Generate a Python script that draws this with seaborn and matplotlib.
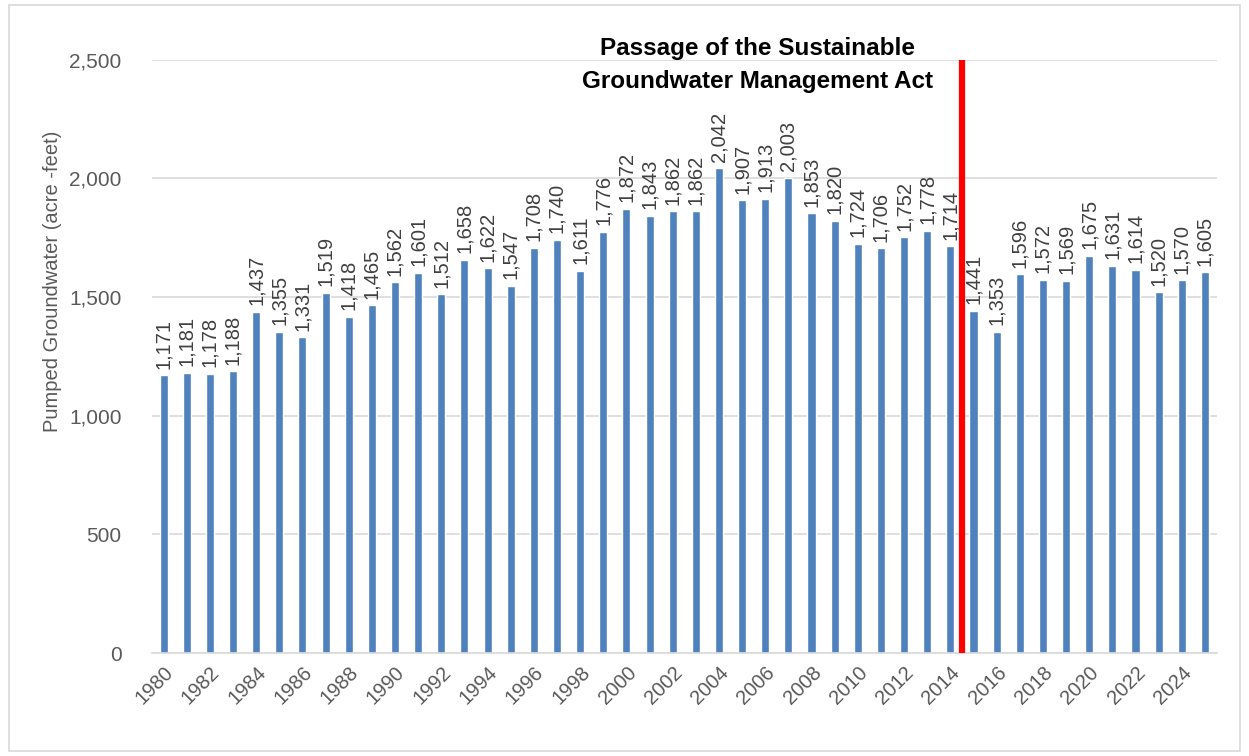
import numpy as np
import pandas as pd
import seaborn as sns
import matplotlib.pyplot as plt
from matplotlib.patches import Rectangle

# Data
years = list(range(1980, 2026))
pumped = [1171, 1181, 1178, 1188, 1437, 1355, 1331, 1519, 1418, 1465,
          1562, 1601, 1512, 1658, 1622, 1547, 1708, 1740, 1611, 1776,
          1872, 1843, 1862, 1862, 2042, 1907, 1913, 2003, 1853, 1820,
          1724, 1706, 1752, 1778, 1714, 1441, 1353, 1596, 1572, 1569,
          1675, 1631, 1614, 1520, 1570, 1605]
sgma_year = 2015
annotation = "Passage of the Sustainable\nGroundwater Management Act"

df = pd.DataFrame({"year": years, "pumped": pumped})

sns.set_style("white")
plt.rcParams["font.family"] = ["Liberation Sans", "DejaVu Sans"]

fig = plt.figure(figsize=(12.49, 7.56), dpi=100)
ax = fig.add_axes([0.1217, 0.136, 0.8523, 0.785])

sns.barplot(data=df, x="year", y="pumped", color="#4f81bd", saturation=1,
            width=0.35, ax=ax)

# value labels
for i, v in enumerate(pumped):
    ax.text(i, v + 28, f"{v:,}", rotation=90, ha="center", va="bottom",
            fontsize=14.5, color="#404040")

# SGMA marker
xline = years.index(sgma_year) - 0.5
ax.axvline(xline, ymin=0, ymax=1, color="#ff0000", lw=4.5, zorder=5)
ax.text(xline - 8.85, 2478, annotation, ha="center", va="center",
        fontsize=17.5, fontweight="bold", color="black", linespacing=1.6,
        clip_on=False)

ax.set_xlim(-0.5, len(years) - 0.5)
ax.set_ylim(0, 2500)
ax.set_yticks(np.arange(0, 2501, 500))
ax.set_yticklabels([f"{t:,}" for t in range(0, 2501, 500)])
ticks = list(range(0, len(years), 2))
ax.set_xticks(ticks)
ax.set_xticklabels([str(years[t]) for t in ticks], rotation=45, ha="right",
                   rotation_mode="anchor")
ax.tick_params(axis="x", length=0, pad=7, labelsize=14.5, labelcolor="#595959")
ax.tick_params(axis="y", length=0, pad=22, labelsize=15, labelcolor="#595959")

ax.yaxis.grid(True, color="#d9d9d9", lw=1.2)
ax.set_axisbelow(True)
for s in ["top", "right", "left"]:
    ax.spines[s].set_visible(False)
ax.spines["bottom"].set_color("#d9d9d9")
ax.spines["bottom"].set_linewidth(1.2)

ax.set_xlabel("")
ax.set_ylabel("Pumped Groundwater (acre -feet)", fontsize=14.5,
              color="#595959")
ax.yaxis.set_label_coords(-0.085, 0.626)

# outer chart border
fig.patches.append(Rectangle((0.007, 0.007), 0.986, 0.986,
                             transform=fig.transFigure, fill=False,
                             edgecolor="#d9d9d9", lw=1.2))

fig.savefig("out.png", dpi=100)
